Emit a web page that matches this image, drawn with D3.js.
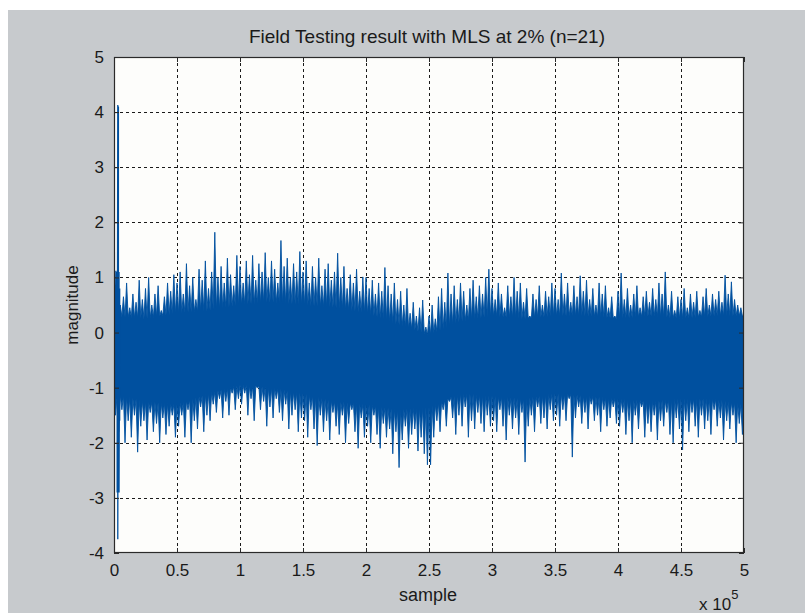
<!DOCTYPE html>
<html>
<head>
<meta charset="utf-8">
<script src="https://cdn.jsdelivr.net/npm/d3@7"></script>
<style>
  html, body { margin: 0; padding: 0; background: #ffffff; }
  svg { display: block; }
  text { font-family: "Liberation Sans", Arial, sans-serif; fill: #1a1a1a; }
</style>
</head>
<body>
<script>
// ---------------- data ----------------
const titleText = "Field Testing result with MLS at 2% (n=21)";
const xLabelText = "sample";
const yLabelText = "magnitude";

const xTickValues = [0, 50000, 100000, 150000, 200000, 250000, 300000, 350000, 400000, 450000, 500000];
const xTickLabels = ["0", "0.5", "1", "1.5", "2", "2.5", "3", "3.5", "4", "4.5", "5"];
const yTickValues = [-4, -3, -2, -1, 0, 1, 2, 3, 4, 5];
const yTickLabels = ["-4", "-3", "-2", "-1", "0", "1", "2", "3", "4", "5"];

// spike positions every 2500 samples (0 .. 500000)
const peakStep = 2500;
const upperPeaks = [
  1.1, 0.75, 0.5, 0.65, 0.9, 0.45, 0.7, 0.55, 0.95, 0.6, 0.8, 1.0, 0.5, 0.7, 0.85, 0.4, 0.65, 0.9, 0.75, 1.05,
  0.9, 1.1, 0.7, 1.25, 0.85, 1.0, 0.6, 1.15, 0.95, 1.3, 0.8, 1.1, 1.82, 1.0, 1.2, 0.9, 1.35, 1.05, 0.85, 1.4,
  1.2, 0.9, 1.3, 1.05, 1.4, 0.95, 1.25, 1.1, 1.45, 1.0, 1.3, 1.15, 0.9, 1.67, 1.2, 1.35, 1.0, 1.25, 1.1, 1.47,
  1.1, 1.3, 0.9, 1.2, 1.0, 1.35, 0.85, 1.15, 1.25, 0.95, 1.1, 1.44, 1.0, 1.2, 0.8, 1.05, 0.9, 1.15, 0.75, 1.01,
  1.0, 0.8, 0.95, 0.7, 0.9, 0.75, 1.18, 0.85, 0.7, 0.9, 0.6, 0.75, 0.5, 0.8, 0.35, 0.55, 0.3, 0.45, 0.59, 0.1,
  0.3, 0.5, 0.25, 0.65, 0.8, 0.55, 1.08, 0.7, 0.85, 0.6, 0.9, 0.75, 0.5, 0.8, 0.95, 0.65, 0.85, 0.7, 1.0, 1.15,
  0.8, 0.6, 0.9, 0.7, 0.45, 0.85, 0.65, 1.0, 0.75, 0.9, 0.55, 0.8, 0.3, 0.7, 0.6, 0.85, 0.5, 0.75, 0.65, 0.9,
  0.8, 0.6, 1.08, 0.7, 0.9, 0.55, 0.85, 0.65, 1.03, 0.75, 0.95, 0.6, 0.8, 0.5, 0.9, 0.7, 0.85, 0.45, 0.65, 0.3,
  0.75, 1.08, 0.6, 0.8, 0.5, 0.7, 0.85, 0.45, 0.65, 0.75, 0.55, 0.8, 0.6, 0.9, 0.7, 1.1, 0.5, 0.75, 0.4, 0.65,
  0.6, 0.8, 0.45, 0.7, 0.55, 0.75, 0.4, 0.65, 0.8, 0.5, 0.7, 0.6, 0.75, 0.55, 1.04, 0.7, 0.92, 0.6, 0.5, 0.45, 0.3
];
const lowerPeaks = [
  -1.5, -1.8, -1.4, -2.0, -1.6, -1.9, -1.5, -2.17, -1.7, -1.6, -1.95, -1.45, -1.8, -1.65, -2.0, -1.55, -1.85, -1.7, -1.5, -1.9,
  -1.7, -1.5, -1.9, -1.4, -2.0, -1.6, -1.75, -1.35, -1.8, -1.5, -1.6, -1.3, -1.45, -1.2, -1.55, -1.25, -1.5, -1.1, -1.4, -1.2,
  -1.3, -1.1, -1.5, -1.2, -1.6, -1.0, -1.4, -1.25, -1.7, -1.35, -1.55, -1.2, -1.45, -1.6, -1.3, -1.75, -1.5, -1.4, -1.8, -1.55,
  -1.6, -1.9, -1.4, -1.75, -2.05, -1.5, -1.8, -1.6, -1.95, -1.45, -1.7, -1.85, -1.5, -2.0, -1.65, -1.4, -1.8, -2.1, -1.55, -1.9,
  -1.7, -2.0, -1.5, -1.85, -2.1, -1.65, -1.9, -1.75, -2.2, -1.8, -2.45, -1.95, -1.7, -2.1, -1.85, -1.75, -2.15, -1.9, -2.2, -2.4,
  -2.4, -1.9, -1.6, -1.8, -1.4, -1.7, -1.25, -1.55, -1.85, -1.5, -1.7, -1.35, -1.9, -1.6, -1.75, -1.45, -1.65, -1.8, -1.5, -1.7,
  -1.6, -1.8, -1.4, -1.7, -1.95, -1.5, -1.75, -1.55, -1.85, -1.45, -2.35, -1.7, -1.5, -1.8, -1.35, -1.65, -1.55, -1.75, -1.4, -1.6,
  -1.5, -1.7, -1.4, -1.6, -1.2, -2.26, -1.55, -1.35, -1.65, -1.45, -1.75, -1.3, -1.6, -1.5, -1.8, -1.4, -1.7, -1.55, -1.35, -1.65,
  -1.7, -1.45, -1.85, -1.6, -2.0, -1.5, -1.75, -1.35, -1.9, -1.65, -1.8, -1.5, -1.95, -1.6, -1.7, -1.45, -1.85, -2.0, -1.55, -1.75,
  -2.13, -1.6, -1.8, -1.45, -1.7, -1.9, -1.5, -1.75, -1.6, -1.85, -1.4, -1.7, -1.55, -1.95, -1.6, -1.75, -1.5, -2.0, -1.65, -1.85, -1.6
];

// dense core of the signal (where the trace is solid), every 25000 samples
const coreX = [0, 25000, 50000, 75000, 100000, 125000, 150000, 175000, 200000, 225000, 250000,
               275000, 300000, 325000, 350000, 375000, 400000, 425000, 450000, 475000, 500000];
const coreHigh = [0.3, 0.25, 0.35, 0.4, 0.5, 0.55, 0.5, 0.45, 0.35, 0.15, -0.05,
                  0.2, 0.3, 0.25, 0.3, 0.3, 0.25, 0.3, 0.25, 0.3, 0.3];
const coreLow = [-1.1, -1.25, -1.3, -1.1, -0.95, -1.0, -1.1, -1.25, -1.3, -1.4, -1.35,
                 -1.1, -1.15, -1.2, -1.1, -1.15, -1.2, -1.25, -1.2, -1.2, -1.3];

// start-up transient
const transientX = [300, 1500, 2500, 3000, 3500, 4000, 4500];
const transientHigh = [1.46, 1.12, 1.1, 4.13, 4.1, 1.1, 0.8];
const transientLow = [-0.98, -1.2, -2.9, -3.75, -2.9, -2.9, -1.6];

// ---------------- drawing ----------------
const W = 805, H = 613;
const plot = { left: 114, right: 744, top: 57, bottom: 553 };
const blue = "#00509f";

const svg = d3.select("body").append("svg").attr("width", W).attr("height", H);

svg.append("rect").attr("x", 0).attr("y", 0).attr("width", W).attr("height", H).attr("fill", "#ffffff");
svg.append("rect").attr("x", 8).attr("y", 10).attr("width", W - 8).attr("height", H - 10).attr("fill", "#c7cacd");

svg.append("rect")
  .attr("x", plot.left).attr("y", plot.top)
  .attr("width", plot.right - plot.left).attr("height", plot.bottom - plot.top)
  .attr("fill", "#fdfdfb");

const x = d3.scaleLinear().domain([0, 500000]).range([plot.left, plot.right]);
const y = d3.scaleLinear().domain([-4, 5]).range([plot.bottom, plot.top]);

// grid (below data)
const grid = svg.append("g").attr("stroke", "#1a1a1a").attr("stroke-width", 1).attr("stroke-dasharray", "3,3");
grid.selectAll("line.vx").data(xTickValues.slice(1, -1)).enter().append("line")
  .attr("x1", d => Math.round(x(d)) + 0.5).attr("x2", d => Math.round(x(d)) + 0.5)
  .attr("y1", plot.top).attr("y2", plot.bottom);
grid.selectAll("line.hy").data(yTickValues.slice(1, -1)).enter().append("line")
  .attr("y1", d => Math.round(y(d)) + 0.5).attr("y2", d => Math.round(y(d)) + 0.5)
  .attr("x1", plot.left).attr("x2", plot.right);

svg.append("clipPath").attr("id", "clip").append("rect")
  .attr("x", plot.left).attr("y", plot.top)
  .attr("width", plot.right - plot.left).attr("height", plot.bottom - plot.top);
const dataLayer = svg.append("g").attr("clip-path", "url(#clip)");

// band edges along the core (piecewise linear, as an area would draw them)
const coreTop = d3.scaleLinear().domain(coreX).range(coreHigh);
const coreBot = d3.scaleLinear().domain(coreX).range(coreLow);

// trace: spikes up to the upper peaks and down to the lower peaks, solid in between
const topEdge = [], botEdge = [];
upperPeaks.forEach((v, i) => {
  const s = i * peakStep;
  topEdge.push([s, v]);
  const m = Math.min(s + peakStep / 2, 500000);
  topEdge.push([m, coreTop(m)]);
});
lowerPeaks.forEach((v, i) => {
  const s = i * peakStep;
  botEdge.push([s, coreBot(s)]);
  const m = Math.min(s + peakStep / 2, 500000);
  botEdge.push([m, v]);
});
const env = d3.path();
topEdge.forEach((p, i) => i === 0 ? env.moveTo(x(p[0]), y(p[1])) : env.lineTo(x(p[0]), y(p[1])));
botEdge.slice().reverse().forEach(p => env.lineTo(x(p[0]), y(p[1])));
env.closePath();
dataLayer.append("path")
  .attr("d", env.toString())
  .attr("fill", blue)
  .attr("stroke", blue)
  .attr("stroke-width", 0.9)
  .attr("stroke-linejoin", "round");

// transient
const tr = [];
transientX.forEach((v, i) => { tr.push([v, transientHigh[i]]); tr.push([v, transientLow[i]]); });
dataLayer.append("path")
  .datum(tr)
  .attr("fill", "none")
  .attr("stroke", blue)
  .attr("stroke-width", 1.3)
  .attr("d", d3.line().x(d => x(d[0])).y(d => y(d[1])));

// axes (ticks inward, MATLAB style)
const tickLen = 5;
const axB = d3.axisBottom(x).tickValues(xTickValues).tickFormat((d, i) => xTickLabels[i]).tickSizeInner(-tickLen).tickSizeOuter(0).tickPadding(tickLen + 6);
const axT = d3.axisTop(x).tickValues(xTickValues).tickFormat("").tickSizeInner(-tickLen).tickSizeOuter(0);
const axL = d3.axisLeft(y).tickValues(yTickValues).tickFormat((d, i) => yTickLabels[i]).tickSizeInner(-tickLen).tickSizeOuter(0).tickPadding(tickLen + 5);
const axR = d3.axisRight(y).tickValues(yTickValues).tickFormat("").tickSizeInner(-tickLen).tickSizeOuter(0);

function styleAxis(g) {
  g.select(".domain").remove();
  g.selectAll(".tick line").attr("stroke", "#2a2a2a");
  g.selectAll(".tick text").attr("fill", "#1a1a1a").style("font-size", "17px")
    .style("font-family", "'Liberation Sans', Arial, sans-serif");
}
svg.append("g").attr("transform", `translate(0,${plot.bottom})`).call(axB).call(styleAxis);
svg.append("g").attr("transform", `translate(0,${plot.top})`).call(axT).call(styleAxis);
svg.append("g").attr("transform", `translate(${plot.left},0)`).call(axL).call(styleAxis);
svg.append("g").attr("transform", `translate(${plot.right},0)`).call(axR).call(styleAxis);

svg.append("rect")
  .attr("x", plot.left + 0.5).attr("y", plot.top + 0.5)
  .attr("width", plot.right - plot.left - 1).attr("height", plot.bottom - plot.top - 1)
  .attr("fill", "none").attr("stroke", "#2a2a2a").attr("stroke-width", 1.2);

// title and labels
svg.append("text").attr("x", (plot.left + plot.right) / 2 - 2).attr("y", 43)
  .attr("text-anchor", "middle").style("font-size", "19px").text(titleText);
svg.append("text").attr("x", (plot.left + plot.right) / 2 - 1).attr("y", 601)
  .attr("text-anchor", "middle").style("font-size", "18px").text(xLabelText);
svg.append("text").attr("transform", `translate(78,${(plot.top + plot.bottom) / 2}) rotate(-90)`)
  .attr("text-anchor", "middle").style("font-size", "17px").text(yLabelText);

const ex = svg.append("text").attr("x", 699).attr("y", 610).style("font-size", "17px");
ex.append("tspan").text("x 10");
ex.append("tspan").attr("dy", -11).style("font-size", "13px").text("5");
</script>
</body>
</html>
